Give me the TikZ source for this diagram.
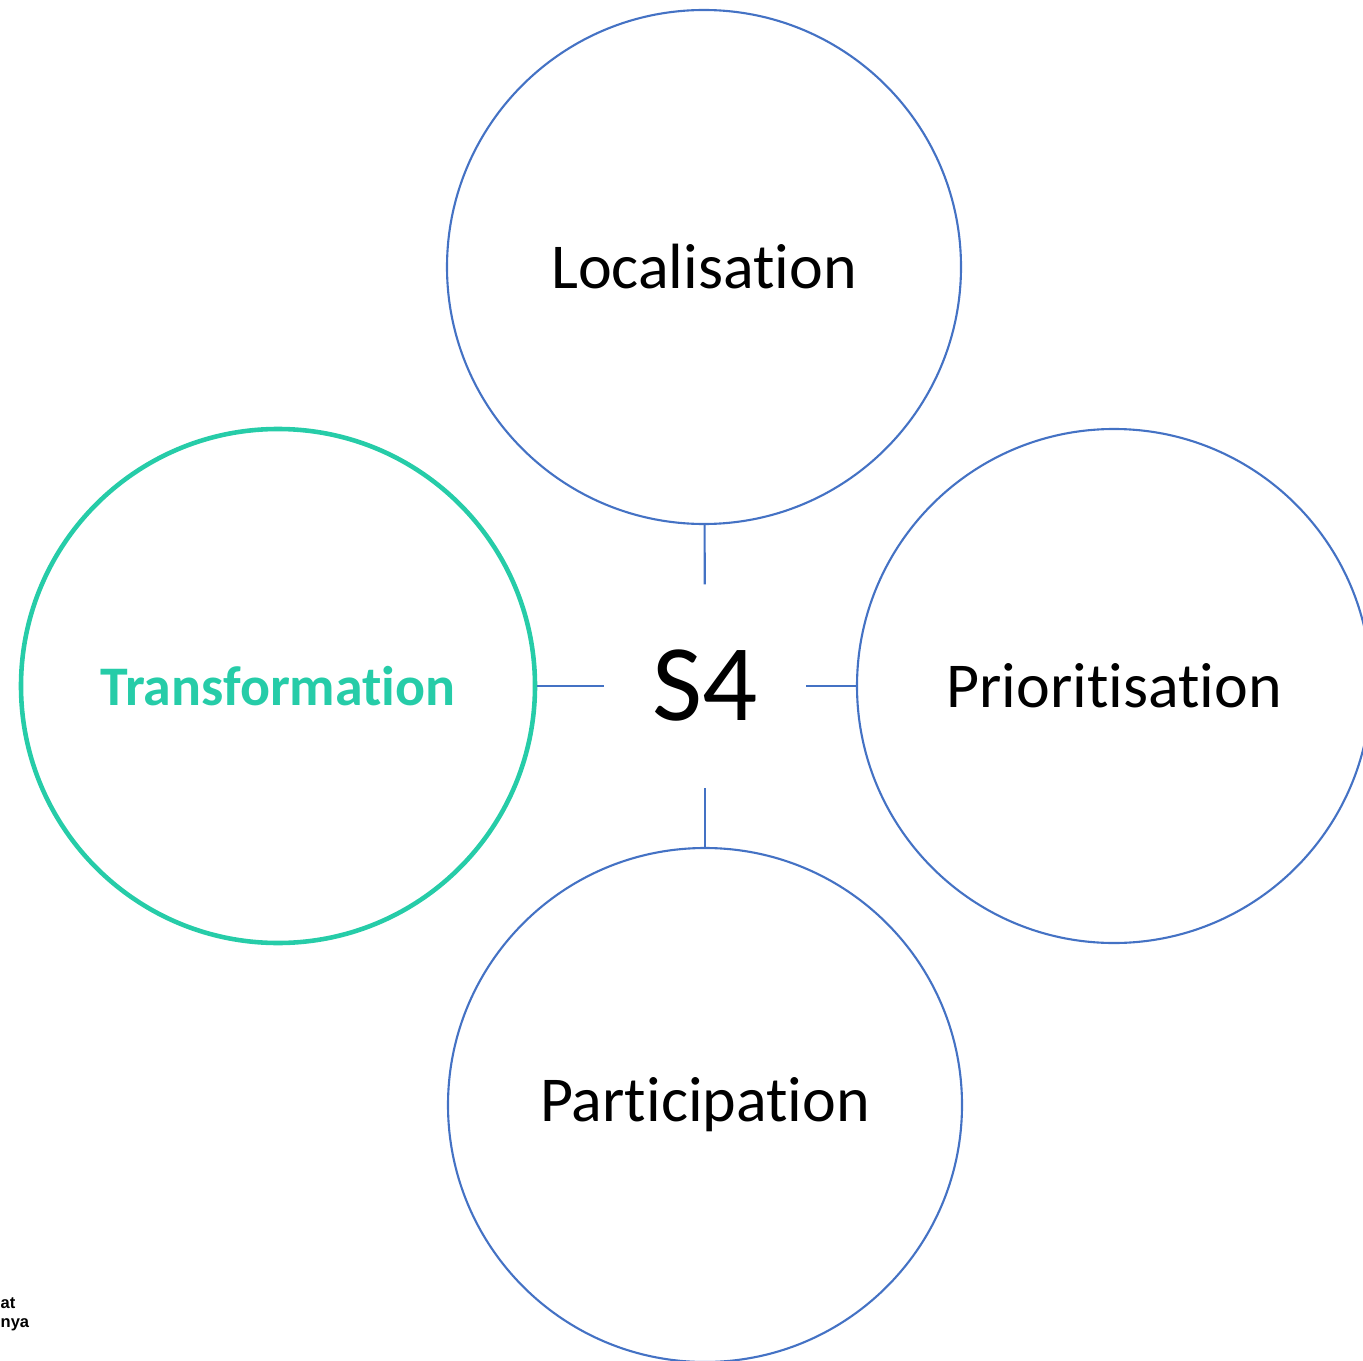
\documentclass[tikz,border=0pt]{standalone}
\usepackage{fontspec}
\setmainfont{Carlito}[Ligatures={NoCommon,NoContextual,NoRare}]
\newfontfamily\smallfont{Liberation Sans}
\usetikzlibrary{positioning}
\definecolor{ringblue}{RGB}{68,114,196}
\definecolor{ringgreen}{RGB}{38,204,168}
\tikzstyle{ring}=[circle,draw=ringblue,line width=0.6pt,minimum size=5.14cm,inner sep=0pt,font=\fontsize{18.2}{22}\selectfont]
\tikzstyle{hub}=[minimum width=2cm,minimum height=2.02cm,inner sep=0pt,font=\fontsize{31}{36}\selectfont]

\begin{document}
\begin{tikzpicture}
\useasboundingbox (0,0) rectangle (13.63,-13.60);
\node[hub] (S) at (7.05,-6.86) {S4};
\node[ring] (L) at (7.04,-2.67) {Localisation};
\node[ring] (P) at (11.14,-6.86) {Prioritisation};
\node[ring] (Q) at (7.05,-11.05) {Participation};
\node[ring,draw=ringgreen,line width=1.3pt,text=ringgreen,font=\fontsize{15.9}{19}\selectfont\bfseries] (T) at (2.78,-6.86) {Transformation};
\node[anchor=west,inner sep=0pt,align=left,font=\smallfont\bfseries\fontsize{4.7}{5.4}\selectfont] (N) at (0,-13.14) {at\\nya};
\path[draw=ringblue,line width=0.6pt]
(L) edge (S)
(Q) edge (S)
(T) edge (S)
(P) edge (S);
\end{tikzpicture}
\end{document}
